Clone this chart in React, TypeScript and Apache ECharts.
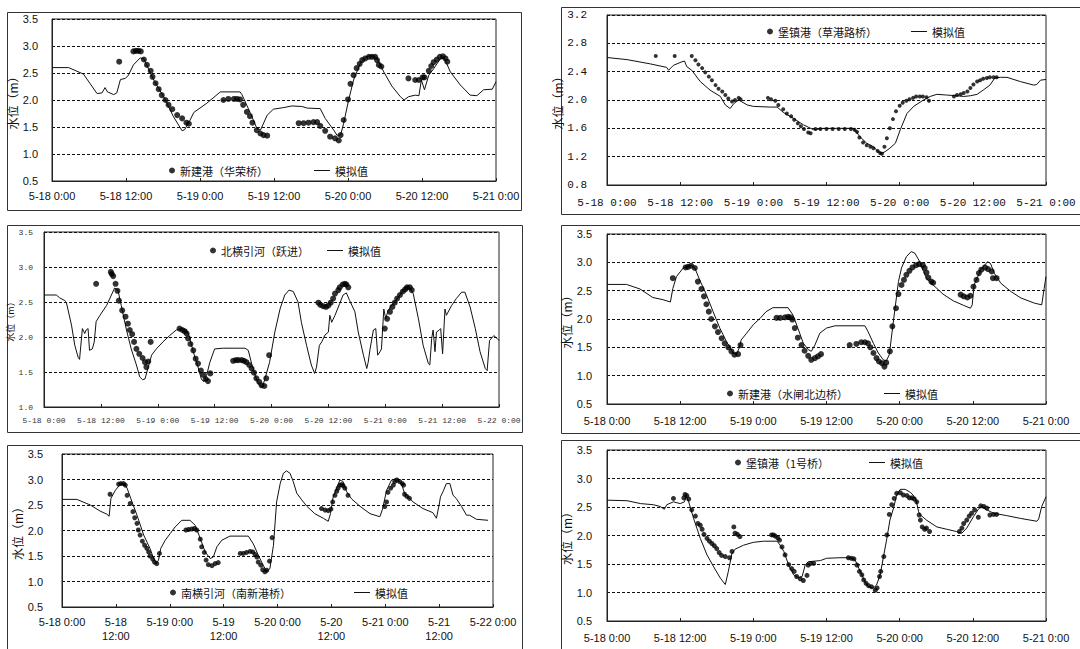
import React, { useEffect, useRef } from "react";
import * as echarts from "echarts";

const SIM_NAME = "模拟值";
const Y_NAME = "水位（m）";

const p1Name = "新建港（华荣桥）";
const p1Sim: [number, number][] = [[0,2.6],[2.7,2.6],[5.1,2.48],[7.3,2.12],[8.1,2.13],[8.6,2.23],[9.0,2.15],[10.0,2.1],[10.5,2.13],[11.1,2.38],[11.9,2.4],[12.4,2.46],[13.2,2.65],[14.3,2.78],[14.9,2.76],[16.5,2.37],[18.4,2.0],[19.7,1.69],[21.1,1.43],[21.5,1.45],[22.4,1.63],[23.0,1.77],[25.1,1.94],[27.3,2.15],[30.5,2.15],[30.8,2.1],[32.2,1.75],[33.2,1.48],[33.8,1.44],[34.9,1.72],[35.9,1.83],[37.6,1.86],[38.9,1.89],[40.5,1.88],[41.4,1.85],[43.5,1.84],[44.3,1.66],[45.7,1.44],[46.2,1.35],[46.8,1.35],[47.3,1.57],[48.1,2.0],[48.9,2.37],[50.0,2.68],[51.1,2.81],[51.9,2.82],[52.7,2.78],[53.8,2.52],[55.1,2.26],[56.5,2.06],[57.1,2.0],[57.8,2.06],[58.9,2.09],[59.5,2.08],[59.9,2.37],[60.4,2.19],[61.1,2.46],[61.9,2.58],[63.0,2.77],[63.6,2.78],[64.6,2.52],[66.2,2.28],[67.8,2.09],[68.9,2.08],[70.0,2.19],[71.4,2.2],[72,2.34]];
const p1Obs: [number, number][] = [[10.9,2.71],[13.2,2.9],[13.6,2.91],[14.0,2.91],[14.4,2.9],[14.9,2.75],[15.4,2.65],[16.0,2.54],[16.3,2.43],[16.8,2.31],[17.3,2.2],[17.8,2.09],[18.4,2.0],[18.9,1.91],[19.5,1.83],[20.3,1.72],[21.1,1.66],[21.8,1.58],[22.2,1.56],[27.8,2.0],[28.6,2.02],[29.5,2.02],[30.0,2.02],[30.5,2.01],[31.0,1.91],[31.6,1.78],[32.1,1.7],[32.5,1.58],[33.2,1.44],[33.8,1.38],[34.3,1.35],[34.9,1.34],[40.0,1.57],[40.8,1.57],[41.6,1.58],[42.4,1.59],[43.0,1.59],[43.5,1.52],[44.3,1.43],[45.1,1.32],[45.9,1.29],[46.5,1.25],[46.8,1.35],[47.3,1.63],[48.0,2.01],[48.4,2.3],[48.9,2.46],[49.4,2.59],[49.9,2.67],[50.3,2.74],[50.8,2.77],[51.4,2.8],[51.9,2.8],[52.4,2.8],[52.7,2.74],[53.0,2.65],[53.4,2.62],[57.8,2.4],[58.9,2.37],[59.5,2.37],[60.1,2.42],[60.4,2.42],[61.1,2.54],[61.5,2.63],[61.9,2.7],[62.4,2.75],[62.9,2.8],[63.4,2.81],[63.8,2.77],[64.1,2.71]];

const p2Name = "堡镇港（草港路桥）";
const p2Sim: [number, number][] = [[0,2.6],[3.3,2.57],[7.1,2.51],[9.8,2.46],[10.1,2.42],[10.9,2.49],[12.3,2.54],[12.7,2.55],[13.1,2.47],[13.9,2.42],[15.3,2.26],[16.9,2.14],[18.6,2.05],[19.4,1.93],[20.2,1.88],[20.8,1.95],[21.6,2.0],[23.0,1.93],[24.0,1.91],[26.8,1.9],[27.9,1.9],[29.0,1.82],[30.6,1.74],[32.2,1.65],[33.9,1.58],[35.5,1.6],[40.4,1.6],[41.5,1.48],[42.6,1.39],[43.7,1.34],[44.5,1.27],[45.1,1.25],[45.6,1.27],[46.4,1.32],[47.3,1.39],[48.1,1.58],[49.2,1.81],[50.3,1.91],[51.9,2.0],[53.0,2.05],[54.1,2.08],[55.7,2.07],[57.4,2.06],[58.5,2.05],[59.6,2.06],[60.7,2.08],[61.7,2.14],[62.8,2.21],[63.6,2.31],[64.5,2.32],[65.6,2.32],[67.8,2.26],[70.0,2.21],[70.5,2.22],[71.1,2.28],[72,2.29]];
const p2Obs: [number, number][] = [[8.0,2.62],[11.1,2.62],[13.9,2.62],[14.5,2.56],[15.0,2.5],[15.6,2.45],[16.1,2.39],[16.7,2.33],[17.2,2.28],[17.8,2.21],[18.3,2.16],[18.9,2.12],[19.4,2.07],[19.9,2.02],[20.5,1.98],[21.0,2.0],[21.6,2.03],[21.9,2.01],[26.4,2.03],[26.9,2.01],[27.6,1.99],[28.1,1.93],[28.9,1.87],[29.5,1.81],[30.2,1.77],[30.7,1.72],[31.3,1.67],[31.8,1.63],[32.3,1.59],[33.0,1.54],[33.4,1.53],[34.2,1.59],[35.0,1.59],[36.0,1.59],[37.0,1.59],[38.0,1.59],[39.0,1.59],[40.0,1.59],[40.6,1.58],[41.0,1.55],[41.4,1.47],[42.0,1.4],[42.6,1.36],[43.2,1.34],[43.7,1.32],[44.4,1.28],[44.8,1.25],[45.1,1.24],[45.5,1.34],[45.9,1.46],[46.4,1.6],[46.9,1.73],[47.4,1.84],[48.0,1.92],[48.5,1.96],[49.1,1.99],[49.6,2.01],[50.2,2.03],[50.7,2.05],[51.3,2.05],[51.8,2.05],[52.4,2.04],[52.8,1.99],[56.9,2.05],[57.4,2.07],[58.0,2.08],[58.5,2.1],[59.1,2.12],[59.6,2.17],[60.1,2.22],[60.7,2.26],[61.2,2.28],[61.7,2.3],[62.3,2.31],[62.8,2.32],[63.4,2.32],[63.9,2.32]];

const p3Name = "北横引河（跃进）";
const p3Sim: [number, number][] = [[0,2.6],[2.6,2.6],[3.3,2.56],[4.4,2.52],[4.7,2.5],[5.8,2.17],[6.5,1.88],[7.2,1.71],[7.5,1.68],[8.1,2.12],[8.6,2.05],[8.9,2.1],[9.3,2.12],[9.6,1.81],[10.2,1.83],[10.6,1.93],[11.0,2.22],[11.8,2.31],[13.2,2.45],[14.9,2.7],[15.6,2.67],[16.3,2.45],[17.4,2.1],[18.4,1.83],[19.5,1.6],[20.2,1.43],[20.8,1.39],[21.3,1.4],[22.0,1.57],[22.7,1.74],[23.7,1.83],[25.1,1.93],[26.5,2.02],[27.9,2.1],[29.0,2.12],[30.0,2.1],[30.6,2.02],[31.5,1.79],[32.5,1.57],[33.2,1.4],[33.7,1.36],[34.3,1.45],[35.0,1.64],[36.0,1.83],[37.8,1.84],[39.9,1.84],[42.4,1.84],[43.1,1.81],[43.8,1.62],[44.8,1.4],[45.5,1.31],[46.1,1.29],[46.6,1.4],[47.6,1.64],[48.7,2.07],[49.8,2.4],[50.8,2.6],[51.7,2.67],[52.6,2.65],[53.6,2.5],[54.3,2.21],[55.4,1.88],[56.4,1.6],[57.1,1.48],[57.5,1.57],[58.1,1.88],[58.6,1.93],[59.3,2.03],[60.0,2.07],[60.3,2.31],[60.7,2.21],[61.4,2.31],[62.4,2.48],[63.1,2.6],[63.8,2.63],[64.5,2.52],[65.6,2.36],[66.3,2.07],[67.4,1.74],[68.1,1.55],[68.4,1.64],[68.8,1.83],[69.5,2.1],[70.0,2.12],[70.4,1.74],[70.9,1.79],[71.2,1.83],[71.7,2.4],[72.1,2.26],[72.6,2.38],[73.7,2.48],[75.1,2.6],[76.2,2.71],[77.0,2.73],[77.9,2.62],[79.0,2.26],[80.0,1.88],[81.1,1.62],[81.4,1.6],[81.8,1.98],[82.1,2.1],[82.5,1.79],[82.8,2.07],[83.4,2.1],[83.7,2.12],[84.1,1.76],[84.6,2.4],[84.9,2.31],[86.0,2.45],[87.0,2.55],[88.1,2.64],[88.8,2.64],[89.9,2.43],[91.0,2.12],[92.0,1.79],[93.1,1.55],[93.5,1.52],[94.0,1.95],[94.9,2.02],[95.6,1.98],[96,1.95]];
const p3Obs: [number, number][] = [[11.0,2.76],[14.1,2.93],[14.3,2.9],[14.6,2.87],[15.1,2.76],[15.5,2.66],[15.8,2.52],[16.5,2.38],[17.2,2.29],[17.7,2.19],[18.1,2.1],[18.6,2.04],[19.0,1.93],[19.5,1.83],[20.1,1.76],[20.8,1.7],[21.3,1.64],[21.6,1.57],[22.0,1.65],[22.5,1.93],[28.6,2.12],[29.2,2.1],[29.7,2.08],[30.1,2.05],[30.4,1.98],[30.9,1.9],[31.5,1.81],[32.0,1.69],[32.5,1.62],[33.1,1.52],[33.6,1.46],[34.1,1.4],[34.6,1.37],[35.1,1.48],[39.9,1.66],[40.5,1.67],[41.0,1.67],[41.7,1.67],[42.2,1.66],[42.7,1.64],[43.3,1.6],[43.8,1.55],[44.3,1.49],[44.8,1.41],[45.4,1.36],[45.9,1.31],[46.5,1.3],[46.9,1.41],[47.5,1.74],[57.9,2.49],[58.3,2.46],[58.9,2.44],[59.5,2.43],[60.0,2.45],[60.5,2.49],[61.0,2.55],[61.4,2.62],[62.1,2.67],[62.4,2.71],[63.0,2.75],[63.5,2.76],[63.8,2.75],[64.2,2.71],[71.9,2.12],[72.4,2.26],[73.0,2.36],[73.5,2.43],[74.0,2.49],[74.5,2.55],[75.1,2.6],[75.7,2.65],[76.2,2.68],[76.6,2.71],[77.2,2.71],[77.6,2.67]];

const p4Name = "新建港（水闸北边桥）";
const p4Sim: [number, number][] = [[0,2.61],[3.2,2.61],[5.4,2.53],[7.5,2.38],[9.2,2.34],[10.4,2.3],[10.8,2.54],[11.4,2.75],[12.5,2.9],[13.8,2.95],[14.4,2.9],[15.2,2.69],[16.3,2.43],[17.4,2.13],[18.5,1.84],[19.6,1.6],[20.7,1.4],[21.2,1.37],[21.7,1.49],[22.0,1.63],[22.9,1.75],[24.0,1.9],[25.1,2.01],[26.1,2.13],[27.2,2.2],[29.7,2.2],[30.5,2.07],[31.3,1.84],[32.2,1.57],[33.0,1.46],[33.5,1.43],[34.1,1.54],[34.9,1.75],[36.0,1.84],[37.4,1.88],[42.3,1.88],[42.8,1.78],[43.7,1.57],[44.5,1.4],[45.3,1.28],[45.8,1.26],[46.3,1.37],[46.9,1.9],[47.8,2.66],[48.3,2.9],[49.1,3.1],[49.9,3.19],[50.5,3.16],[51.3,3.01],[51.9,2.84],[52.4,2.72],[53.5,2.6],[55.1,2.44],[56.8,2.32],[58.5,2.24],[59.6,2.19],[59.9,2.25],[60.2,2.6],[61.3,2.87],[62.4,3.01],[62.9,2.98],[63.5,2.81],[64.6,2.63],[66.3,2.48],[67.9,2.37],[70.1,2.28],[71.3,2.25],[71.7,2.54],[72,2.75]];
const p4Obs: [number, number][] = [[10.8,2.72],[12.9,2.91],[13.3,2.92],[13.8,2.94],[14.4,2.9],[14.9,2.66],[15.5,2.53],[15.9,2.4],[16.3,2.26],[16.7,2.13],[17.1,2.0],[17.7,1.87],[18.2,1.77],[18.8,1.66],[19.3,1.57],[19.9,1.5],[20.4,1.43],[20.9,1.37],[21.5,1.38],[21.9,1.54],[27.8,2.02],[28.4,2.02],[29.2,2.03],[29.7,2.04],[30.1,2.03],[30.4,1.99],[30.8,1.84],[31.3,1.67],[31.9,1.54],[32.4,1.44],[33.0,1.35],[33.5,1.28],[34.1,1.31],[34.6,1.34],[35.1,1.38],[39.8,1.54],[40.9,1.56],[41.7,1.59],[42.3,1.59],[42.8,1.57],[43.2,1.5],[43.7,1.4],[44.2,1.31],[44.6,1.25],[45.1,1.22],[45.5,1.16],[45.8,1.23],[46.4,1.43],[46.8,1.87],[47.4,2.19],[47.8,2.44],[48.3,2.6],[48.7,2.69],[49.1,2.78],[49.6,2.85],[50.1,2.91],[50.7,2.95],[51.2,2.97],[51.8,2.95],[52.1,2.9],[52.4,2.82],[52.7,2.73],[53.2,2.66],[53.5,2.64],[58.0,2.43],[58.5,2.4],[59.1,2.38],[59.6,2.41],[60.1,2.57],[60.6,2.69],[61.0,2.81],[61.4,2.87],[62.0,2.91],[62.5,2.88],[63.1,2.84],[63.3,2.72],[63.9,2.72]];

const p5Name = "南横引河（南新港桥）";
const p5Sim: [number, number][] = [[0,2.61],[3.3,2.61],[6.3,2.5],[8.5,2.38],[10.0,2.32],[10.5,2.28],[10.9,2.63],[11.9,2.79],[13.0,2.91],[13.9,2.91],[14.5,2.83],[15.6,2.56],[16.7,2.3],[18.2,1.91],[19.6,1.65],[20.4,1.45],[21.0,1.35],[21.5,1.42],[22.0,1.65],[23.0,1.81],[24.1,1.94],[25.2,2.07],[26.7,2.2],[28.5,2.2],[29.7,2.1],[30.8,1.84],[31.9,1.58],[33.0,1.45],[33.7,1.48],[34.5,1.68],[35.6,1.81],[37.4,1.89],[41.5,1.89],[42.6,1.74],[43.7,1.52],[44.8,1.32],[45.6,1.2],[46.3,1.25],[47.1,1.71],[47.8,2.56],[48.6,2.92],[49.3,3.12],[50.0,3.17],[50.8,3.12],[51.5,2.96],[52.3,2.73],[53.4,2.6],[54.5,2.48],[56.3,2.33],[58.2,2.24],[59.3,2.18],[59.8,2.33],[60.4,2.66],[61.2,2.83],[61.9,2.99],[62.6,2.96],[63.4,2.76],[64.5,2.62],[66.3,2.48],[68.6,2.33],[70.8,2.27],[71.4,2.42],[72.3,2.79],[73.4,2.99],[74.5,3.02],[75.6,2.92],[76.3,2.73],[78.2,2.56],[80.4,2.43],[82.6,2.35],[83.4,2.24],[84.0,2.5],[84.3,2.66],[84.7,2.73],[85.0,2.79],[85.6,2.92],[86.4,2.92],[87.1,2.69],[87.8,2.63],[89.0,2.47],[90.1,2.3],[90.8,2.3],[92.3,2.22],[94.9,2.2]];
const p5Obs: [number, number][] = [[10.7,2.71],[12.6,2.91],[13.1,2.92],[13.7,2.92],[14.1,2.89],[14.5,2.69],[15.2,2.53],[15.8,2.37],[16.2,2.25],[16.7,2.14],[17.0,2.01],[17.4,1.91],[17.9,1.79],[18.4,1.71],[18.9,1.65],[19.3,1.58],[19.6,1.5],[20.2,1.44],[20.6,1.38],[21.1,1.35],[21.7,1.55],[27.6,2.01],[28.2,2.02],[28.9,2.03],[29.5,2.04],[30.0,2.01],[30.8,1.83],[31.1,1.68],[31.7,1.57],[32.1,1.42],[32.6,1.33],[33.4,1.31],[34.1,1.35],[34.8,1.37],[39.7,1.55],[40.4,1.55],[41.1,1.57],[41.9,1.59],[42.5,1.58],[43.0,1.53],[43.4,1.48],[43.7,1.38],[44.3,1.32],[44.7,1.23],[45.2,1.19],[45.6,1.22],[46.2,1.4],[46.8,1.86],[57.8,2.43],[58.6,2.4],[59.3,2.39],[59.9,2.42],[60.3,2.56],[60.8,2.69],[61.2,2.77],[61.5,2.83],[61.9,2.89],[62.3,2.9],[62.6,2.88],[63.0,2.83],[63.7,2.69],[71.9,2.47],[72.3,2.56],[72.6,2.75],[73.2,2.83],[73.8,2.89],[74.1,2.96],[74.6,2.99],[75.2,2.96],[75.8,2.92],[76.1,2.89],[76.3,2.71],[76.8,2.67],[77.4,2.63]];

const p6Name = "堡镇港（1号桥）";
const p6Sim: [number, number][] = [[0,2.62],[3.3,2.61],[5.5,2.56],[7.6,2.54],[8.7,2.51],[9.4,2.46],[9.8,2.54],[10.9,2.59],[12.0,2.56],[12.7,2.59],[13.0,2.69],[13.4,2.59],[14.2,2.3],[15.3,1.95],[16.4,1.66],[17.5,1.45],[18.6,1.25],[19.4,1.14],[19.9,1.37],[20.5,1.69],[21.0,1.76],[22.4,1.83],[24.0,1.88],[25.7,1.9],[27.9,1.9],[28.4,1.83],[29.0,1.72],[29.8,1.48],[30.6,1.31],[31.4,1.26],[32.0,1.28],[32.5,1.48],[33.0,1.54],[35.0,1.56],[36.0,1.6],[38.2,1.61],[39.9,1.61],[40.7,1.57],[41.2,1.45],[41.8,1.31],[42.3,1.19],[42.9,1.1],[43.7,1.08],[44.2,1.13],[44.8,1.31],[45.3,1.6],[45.9,1.95],[46.4,2.27],[47.0,2.48],[47.5,2.71],[48.1,2.81],[48.9,2.81],[49.7,2.76],[50.2,2.71],[50.7,2.62],[51.1,2.42],[51.3,2.37],[52.4,2.27],[54.1,2.15],[55.7,2.11],[57.3,2.07],[58.2,2.04],[59.0,2.13],[60.1,2.33],[60.9,2.46],[61.4,2.51],[62.3,2.45],[63.4,2.39],[65.5,2.35],[67.8,2.3],[70.5,2.25],[70.8,2.29],[71.3,2.51],[72,2.68]];
const p6Obs: [number, number][] = [[10.9,2.65],[12.6,2.66],[12.8,2.72],[13.1,2.7],[13.4,2.64],[13.9,2.45],[14.5,2.34],[14.9,2.21],[15.3,2.18],[15.6,2.11],[15.9,2.02],[16.4,1.95],[16.8,1.9],[17.2,1.86],[17.6,1.82],[18.0,1.77],[18.4,1.7],[18.8,1.65],[19.4,1.63],[20.1,1.61],[20.5,1.72],[20.8,2.15],[21.0,2.04],[21.4,2.02],[21.8,1.98],[27.0,2.01],[27.3,2.01],[27.6,1.99],[28.0,1.96],[28.3,1.92],[28.7,1.8],[29.2,1.66],[29.8,1.49],[30.3,1.42],[30.7,1.37],[31.1,1.28],[31.7,1.24],[32.2,1.21],[32.8,1.3],[33.0,1.48],[33.4,1.51],[33.9,1.51],[39.6,1.61],[40.1,1.6],[40.5,1.59],[41.0,1.48],[41.4,1.37],[41.8,1.31],[42.1,1.22],[42.5,1.16],[42.9,1.12],[43.4,1.1],[44.0,1.04],[44.3,1.08],[44.7,1.28],[44.9,1.37],[45.4,1.63],[45.9,2.01],[46.3,2.37],[46.7,2.54],[47.1,2.65],[47.5,2.74],[48.1,2.75],[48.6,2.71],[49.2,2.7],[49.6,2.66],[50.0,2.66],[50.4,2.64],[50.8,2.59],[51.2,2.36],[51.4,2.27],[51.7,2.15],[52.1,2.11],[52.4,2.13],[52.9,2.07],[57.8,2.07],[58.2,2.13],[58.5,2.21],[59.0,2.27],[59.4,2.34],[59.8,2.39],[60.3,2.45],[60.9,2.32],[61.3,2.52],[61.8,2.51],[62.3,2.48],[62.8,2.36],[63.4,2.37],[63.9,2.37]];

const panels = [
  { name: p1Name, sim: p1Sim, obs: p1Obs, hours: 72, ymin: 0.5, ymax: 3.5, yint: 0.5, twoLine: false },
  { name: p2Name, sim: p2Sim, obs: p2Obs, hours: 72, ymin: 0.8, ymax: 3.2, yint: 0.4, twoLine: false },
  { name: p3Name, sim: p3Sim, obs: p3Obs, hours: 96, ymin: 1.0, ymax: 3.5, yint: 0.5, twoLine: false },
  { name: p4Name, sim: p4Sim, obs: p4Obs, hours: 72, ymin: 0.5, ymax: 3.5, yint: 0.5, twoLine: false },
  { name: p5Name, sim: p5Sim, obs: p5Obs, hours: 96, ymin: 0.5, ymax: 3.5, yint: 0.5, twoLine: true },
  { name: p6Name, sim: p6Sim, obs: p6Obs, hours: 72, ymin: 0.5, ymax: 3.5, yint: 0.5, twoLine: false },
];

// layout: plot grid, outer frame, legend positions, label styles
const layout = [
  { grid: [52, 19, 444, 162], frame: [7, 12, 514, 198], dot: [172, 172], line: [314, 172], xMargin: 8, yMargin: 14, nameGap: 32, lblSize: 11, lblFont: "Liberation Sans", nameSize: 12, dotSize: 6 },
  { grid: [607, 15, 439, 170], frame: [561, 7, 530, 207], dot: [770, 33], line: [911, 33], xMargin: 11, yMargin: 20, nameGap: 32, lblSize: 11, lblFont: "Liberation Mono", nameSize: 12, dotSize: 4 },
  { grid: [44, 232, 455, 175], frame: [7, 225, 515, 207], dot: [213, 252], line: [327, 252], xMargin: 6, yMargin: 11, nameGap: 26, lblSize: 8, lblFont: "Liberation Mono", nameSize: 9, dotSize: 6 },
  { grid: [607, 234, 439, 170], frame: [561, 225, 530, 208], dot: [730, 395], line: [884, 395], xMargin: 10, yMargin: 15, nameGap: 32, lblSize: 11, lblFont: "Liberation Sans", nameSize: 12, dotSize: 6 },
  { grid: [62, 454, 431, 153], frame: [7, 445, 515, 210], dot: [173, 594], line: [354, 594], xMargin: 8, yMargin: 19, nameGap: 38, lblSize: 11, lblFont: "Liberation Sans", nameSize: 12, dotSize: 5 },
  { grid: [607, 450, 439, 171], frame: [561, 440, 530, 215], dot: [738, 464], line: [869, 464], xMargin: 10, yMargin: 15, nameGap: 32, lblSize: 11, lblFont: "Liberation Sans", nameSize: 12, dotSize: 5 },
];

const CJK = "Noto Sans CJK SC";

function xLabel(twoLine: boolean) {
  return (v: number) => {
    const d = 18 + Math.floor(v / 24);
    const h = Math.round(v % 24);
    if (twoLine && h === 12) return `5-${d}\n12:00`;
    return `5-${d} ${h}:00`;
  };
}

export default function App() {
  const ref = useRef<HTMLDivElement>(null);
  useEffect(() => {
    if (!ref.current) return;
    const chart = echarts.init(ref.current, undefined, { renderer: "svg" });
    const grid: any[] = [];
    const xAxis: any[] = [];
    const yAxis: any[] = [];
    const series: any[] = [];
    const legend: any[] = [];
    const graphic: any[] = [];
    panels.forEach((p, i) => {
      const L = layout[i];
      const [gl, gt, gw, gh] = L.grid;
      grid.push({ left: gl, top: gt, width: gw, height: gh, show: true, borderColor: "#222", borderWidth: 1, backgroundColor: "transparent" });
      const lblColor = i === 2 ? "#333" : "#111";
      xAxis.push({
        type: "value", gridIndex: i, min: 0, max: p.hours, interval: 12,
        axisLine: { show: true, lineStyle: { color: "#222", width: 1 } },
        axisTick: { show: true, inside: true, length: 3, lineStyle: { color: "#222" } },
        splitLine: { show: false },
        axisLabel: { formatter: xLabel(p.twoLine), color: lblColor, fontSize: L.lblSize, fontFamily: L.lblFont, margin: L.xMargin, lineHeight: 14, hideOverlap: false },
      });
      yAxis.push({
        type: "value", gridIndex: i, min: p.ymin, max: p.ymax, interval: p.yint,
        name: Y_NAME, nameLocation: "middle", nameRotate: 90, nameGap: L.nameGap,
        nameTextStyle: { fontFamily: CJK, fontSize: L.nameSize, color: "#111" },
        axisLine: { show: true, lineStyle: { color: "#222", width: 1 } },
        axisTick: { show: false },
        splitLine: { show: true, lineStyle: { color: "#111", type: [3, 2], width: 1 } },
        axisLabel: { formatter: (v: number) => v.toFixed(1), color: lblColor, fontSize: L.lblSize, fontFamily: L.lblFont, margin: L.yMargin },
      });
      series.push({
        type: "line", name: SIM_NAME, xAxisIndex: i, yAxisIndex: i, data: p.sim,
        symbol: "none", showSymbol: false, color: "#111",
        itemStyle: { color: "#111" }, lineStyle: { color: "#111", width: 1 }, z: 2,
      });
      series.push({
        type: "scatter", name: p.name, xAxisIndex: i, yAxisIndex: i, data: p.obs,
        symbol: "circle", symbolSize: L.dotSize, itemStyle: { color: "#000" }, z: 3,
      });
      const ts = { fontFamily: CJK, fontSize: 11, color: "#111" };
      legend.push({
        data: [{ name: p.name, icon: "circle" }], left: L.dot[0] - 3, top: L.dot[1] - 7,
        itemWidth: 6, itemHeight: 6, itemGap: 0, padding: 0, selectedMode: false, textStyle: ts,
      });
      legend.push({
        data: [{ name: SIM_NAME, icon: "rect", itemStyle: { color: "#111" } }], left: L.line[0], top: L.line[1] - 7,
        itemWidth: 16, itemHeight: 1, itemGap: 0, padding: 0, selectedMode: false, textStyle: ts,
      });
      const [fx, fy, fw, fh] = L.frame;
      graphic.push({
        type: "rect", shape: { x: fx + 0.5, y: fy + 0.5, width: fw, height: fh },
        style: { fill: "none", stroke: "#333", lineWidth: 1 }, silent: true, z: 0,
      });
    });
    chart.setOption({
      animation: false,
      backgroundColor: "#fff",
      grid, xAxis, yAxis, series, legend, graphic,
    });
    return () => chart.dispose();
  }, []);
  return <div ref={ref} style={{ position: "absolute", left: 0, top: 0, width: 1080, height: 649 }} />;
}
